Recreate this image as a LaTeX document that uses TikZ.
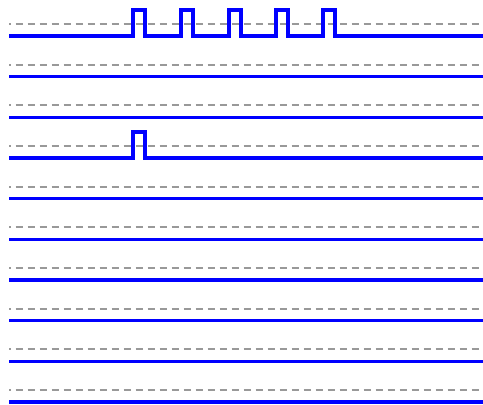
\documentclass[tikz,border=0pt]{standalone}
\usetikzlibrary{arrows}
\tikzset{
    wire/.style={blue, line width=3.6pt},
    level/.style={gray!80, line width=2pt, dash pattern=on 7pt off 5pt, dash phase=5.5pt}
}

\begin{document}
\begin{tikzpicture}[x=1pt, y=-1pt]
    \useasboundingbox (0,0) rectangle (483,405);

    % Dashed reference levels
    \foreach \i in {0,...,9}
        \draw[level] (9,24+40.67*\i) -- (483,24+40.67*\i);

    % Signal lines
    \draw[wire] (9,36) \foreach \p in {133,181,229,276,323} {
        -- (\p,36) -- (\p,10) -- (\p+12,10) -- (\p+12,36)} -- (483,36);
    \foreach \i in {1,2,4,5,6,7,8,9}
        \draw[wire] (9,36+40.67*\i) -- (483,36+40.67*\i);
    \draw[wire] (9,158) -- (133,158) -- (133,132) -- (145,132) -- (145,158) -- (483,158);

\end{tikzpicture}
\end{document}
